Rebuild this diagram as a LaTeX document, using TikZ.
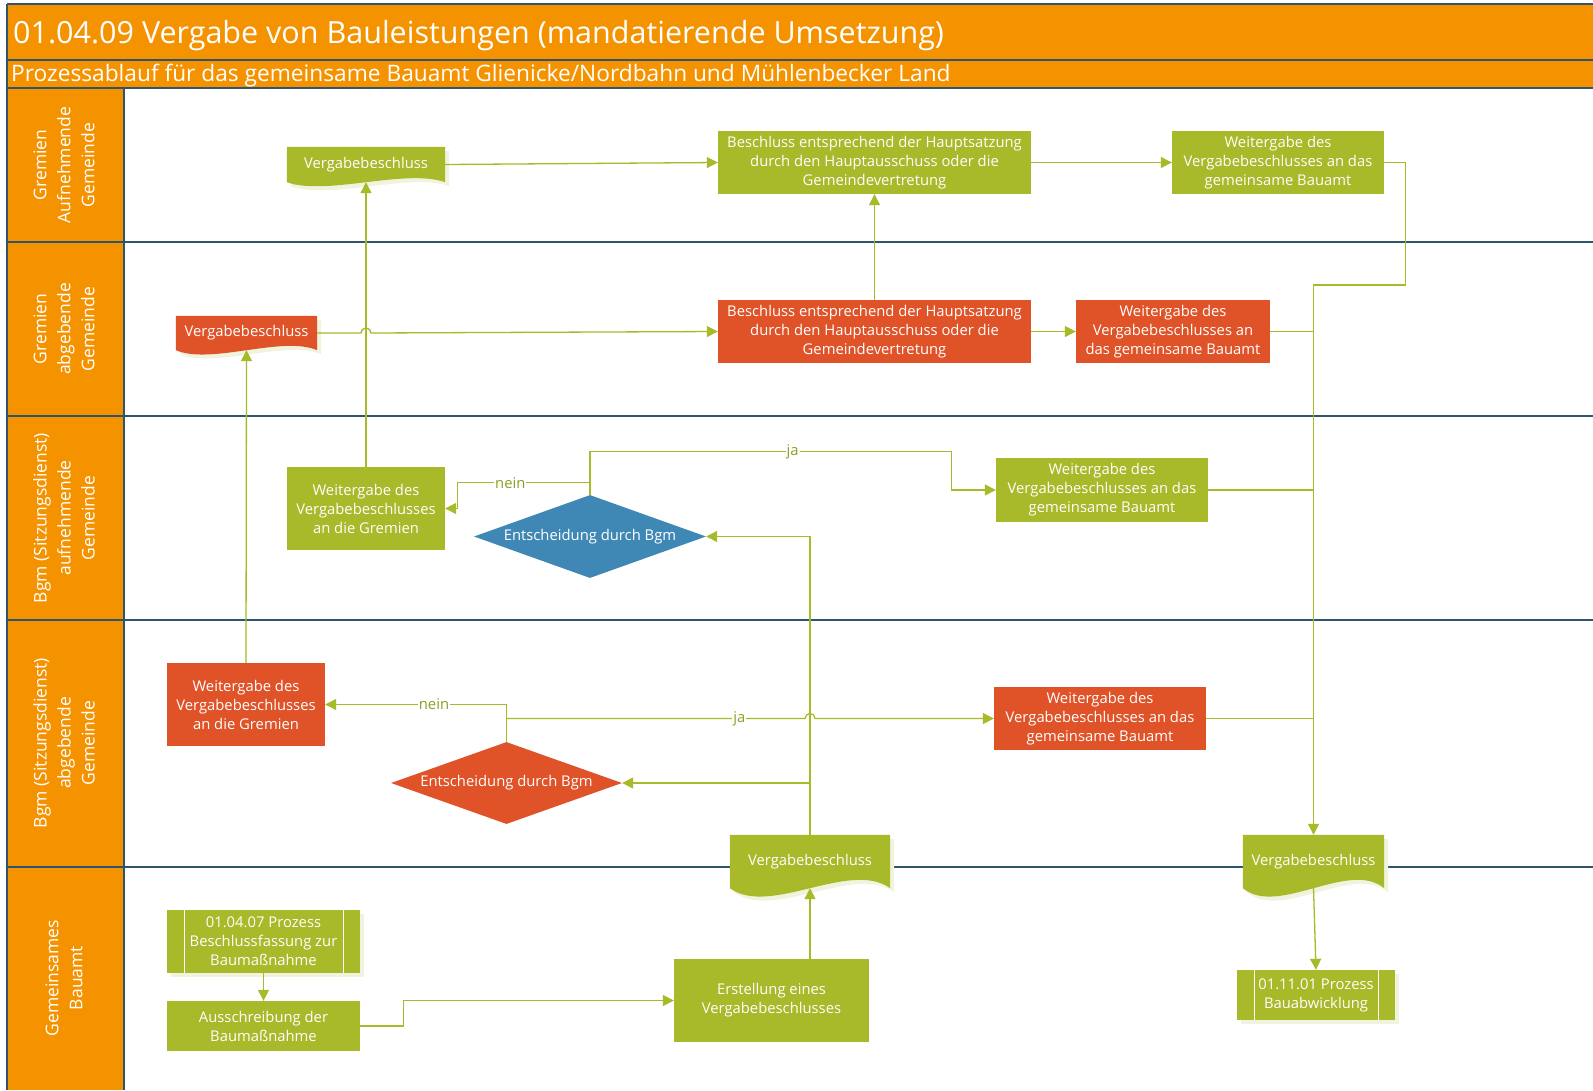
\documentclass[tikz,border=0pt]{standalone}
\usepackage{fontspec}
\setmainfont{Open Sans}
\usetikzlibrary{positioning,arrows.meta,shapes.geometric,calc,backgrounds,shadows}

\definecolor{vorange}{RGB}{244,146,0}
\definecolor{vgreen}{RGB}{168,185,42}
\definecolor{vred}{RGB}{224,83,40}
\definecolor{vblue}{RGB}{63,136,181}
\definecolor{vslate}{RGB}{46,84,110}
\definecolor{vshade}{RGB}{240,244,222}

% Dokument-Symbol: Rechteck mit Wellenkante unten
\newcommand{\docpath}[2]{(#1.north west) -- (#1.north east) -- (#1.south east) .. controls ($(#1.south east)!0.25!(#1.south west)+(0,-#2)$) and ($(#1.south west)!0.25!(#1.south east)+(0,#2)$) .. (#1.south west) -- cycle}

\begin{document}
\begin{tikzpicture}[
  x=1pt,y=-1pt,
  font=\fontsize{14.8}{19}\selectfont,
  box/.style={text=white,align=center,inner sep=0pt},
  gbox/.style={box,fill=vgreen},
  rbox/.style={box,fill=vred},
  doc/.style={box},
  decision/.style={box,diamond,aspect=2.8},
  subproc/.style={gbox,drop shadow={fill=vshade,opacity=1,shadow xshift=4pt,shadow yshift=-4pt},
    path picture={
      \draw[white,line width=1pt] ([xshift=17pt]path picture bounding box.north west) -- ([xshift=17pt]path picture bounding box.south west);
      \draw[white,line width=1pt] ([xshift=-17pt]path picture bounding box.north east) -- ([xshift=-17pt]path picture bounding box.south east);}},
  lanetxt/.style={rotate=90,text=white,align=center,font=\fontsize{17.5}{24}\selectfont},
  frame/.style={vslate,line width=1.5pt},
  conn/.style={vgreen,line width=1.3pt},
  arrow/.style={conn,-{Triangle[length=11pt,width=11pt]}},
  lbl/.style={fill=white,text=vgreen!85!black,inner sep=1pt}
]
\useasboundingbox (0,0) rectangle (1593,1090);

\begin{scope}[on background layer]
\fill[white] (0,0) rectangle (1593,1090);
\fill[vorange] (7,4) rectangle (1593,88);
\fill[vorange] (7,88) rectangle (124,1090);
\draw[frame] (7,4) -- (1593,4);
\draw[frame] (7,60) -- (1593,60);
\draw[frame] (7,88) -- (1593,88);
\foreach \y in {242,416,620,867}
  \draw[frame] (7,\y) -- (1593,\y);
\draw[frame] (7,4) -- (7,1090);
\draw[frame] (124,88) -- (124,1090);
\end{scope}

\node[anchor=base west,inner sep=0pt,text=white,font=\fontsize{30.5}{36}\selectfont] (titel) at (13,43) {01.04.09 Vergabe von Bauleistungen (mandatierende Umsetzung)};
\node[anchor=base west,inner sep=0pt,text=white,font=\fontsize{22.7}{26}\selectfont] (untertitel) at (11,81) {Prozessablauf für das gemeinsame Bauamt Glienicke/Nordbahn und Mühlenbecker Land};

\node[lanetxt] (lane1) at (64,165) {Gremien\\Aufnehmende\\Gemeinde};
\node[lanetxt] (lane2) at (64,329) {Gremien\\abgebende\\Gemeinde};
\node[lanetxt] (lane3) at (64,518) {Bgm (Sitzungsdienst)\\aufnehmende\\Gemeinde};
\node[lanetxt] (lane4) at (64,743) {Bgm (Sitzungsdienst)\\abgebende\\Gemeinde};
\node[lanetxt] (lane5) at (64,978) {Gemeinsames\\Bauamt};

\node[doc,minimum width=158,minimum height=35] (vbAuf) at (366,164.5) {Vergabebeschluss};
\node[gbox,minimum width=313,minimum height=63] (beschlAuf) at (874.5,162.5) {Beschluss entsprechend der Hauptsatzung\\durch den Hauptausschuss oder die\\Gemeindevertretung};
\node[gbox,minimum width=212,minimum height=63] (weitAuf) at (1278,162.5) {Weitergabe des\\Vergabebeschlusses an das\\gemeinsame Bauamt};

\node[doc,minimum width=141,minimum height=34] (vbAbg) at (246.5,333) {Vergabebeschluss};
\node[rbox,minimum width=313,minimum height=63] (beschlAbg) at (874.5,331.5) {Beschluss entsprechend der Hauptsatzung\\durch den Hauptausschuss oder die\\Gemeindevertretung};
\node[rbox,minimum width=194,minimum height=63] (weitAbg) at (1173,331.5) {Weitergabe des\\Vergabebeschlusses an\\das gemeinsame Bauamt};

\node[gbox,minimum width=158,minimum height=83] (gremAuf) at (366,508.5) {Weitergabe des\\Vergabebeschlusses\\an die Gremien};
\node[decision,fill=vblue,minimum width=232,minimum height=83] (entAuf) at (590,536.5) {Entscheidung durch Bgm};
\node[gbox,minimum width=212,minimum height=64] (weitBau) at (1102,490) {Weitergabe des\\Vergabebeschlusses an das\\gemeinsame Bauamt};

\node[rbox,minimum width=158,minimum height=83] (gremAbg) at (246,704.5) {Weitergabe des\\Vergabebeschlusses\\an die Gremien};
\node[decision,fill=vred,minimum width=231,minimum height=82] (entAbg) at (506.5,783) {Entscheidung durch Bgm};
\node[rbox,minimum width=212,minimum height=63] (weitBgm) at (1100,718.5) {Weitergabe des\\Vergabebeschlusses an das\\gemeinsame Bauamt};

\node[doc,minimum width=160,minimum height=53] (vbBau1) at (810,861.5) {Vergabebeschluss};
\node[doc,minimum width=141,minimum height=53] (vbBau2) at (1313.5,861.5) {Vergabebeschluss};
\node[subproc,minimum width=193,minimum height=63] (proz1) at (263.5,941.5) {01.04.07 Prozess\\Beschlussfassung zur\\Baumaßnahme};
\node[gbox,minimum width=193,minimum height=50] (aus) at (263.5,1026) {Ausschreibung der\\Baumaßnahme};
\node[gbox,minimum width=195,minimum height=83] (erst) at (771.5,1000.5) {Erstellung eines\\Vergabebeschlusses};
\node[subproc,minimum width=158,minimum height=50] (proz2) at (1316,995) {01.11.01 Prozess\\Bauabwicklung};

\begin{scope}[on background layer]
\fill[vshade,transform canvas={xshift=4pt,yshift=-4pt}] \docpath{vbAuf}{14};
\fill[vgreen] \docpath{vbAuf}{14};
\fill[vshade,transform canvas={xshift=4pt,yshift=-4pt}] \docpath{vbAbg}{15};
\fill[vred] \docpath{vbAbg}{15};
\fill[vshade,transform canvas={xshift=4pt,yshift=-4pt}] \docpath{vbBau1}{29};
\fill[vgreen] \docpath{vbBau1}{29};
\fill[vshade,transform canvas={xshift=4pt,yshift=-4pt}] \docpath{vbBau2}{29};
\fill[vgreen] \docpath{vbBau2}{29};
\end{scope}

\coordinate (sammel) at (vbBau2.north |- 0,285);

\draw[arrow] (vbAuf.east) -- (beschlAuf.west);
\draw[arrow] (beschlAuf.east) -- (weitAuf.west);
\draw[arrow] (weitAuf.east) -- ++(21,0) |- (sammel) -- (vbBau2.north);
\draw[conn] (weitAbg.east) -- (weitAbg.east -| sammel);
\draw[conn] (weitBau.east) -- (weitBau.east -| sammel);
\draw[conn] (weitBgm.east) -- (weitBgm.east -| sammel);

\draw[arrow] (vbAbg.east) -- ($(vbAbg.east -| gremAuf.north)+(-5,0)$) arc[start angle=180,end angle=0,radius=5pt] -- (beschlAbg.west);
\draw[arrow] (beschlAbg.north) -- (beschlAuf.south);
\draw[arrow] (beschlAbg.east) -- (weitAbg.west);

\draw[arrow] (gremAuf.north) -- (vbAuf.south);
\draw[arrow] (gremAbg.north) -- (vbAbg.south);
\draw[arrow] (entAuf.north) -- ++(0,-12) -| node[lbl,pos=0.3]{nein} ([xshift=12pt]gremAuf.east) -- (gremAuf.east);
\draw[arrow] (entAuf.north) -- ++(0,-43) -| node[lbl,pos=0.28]{ja} ([xshift=-44pt]weitBau.west) -- (weitBau.west);

\draw[arrow] (vbBau1.north) |- (entAuf.east);
\draw[arrow] (vbBau1.north |- entAbg.east) -- (entAbg.east);
\draw[arrow] (erst.north -| vbBau1.south) -- (vbBau1.south);
\draw[arrow] (entAbg.north) |- node[lbl,pos=0.7]{nein} (gremAbg.east);
\draw[arrow] (entAbg.north |- weitBgm.west) -- node[lbl,pos=0.78]{ja} ($(vbBau1.north |- weitBgm.west)+(-5,0)$) arc[start angle=180,end angle=0,radius=5pt] -- (weitBgm.west);

\draw[arrow] (proz1.south) -- (aus.north);
\draw[arrow] (aus.east) -- ++(43,0) |- (erst.west);
\draw[arrow] (vbBau2.south) -- (proz2.north);
\end{tikzpicture}
\end{document}
